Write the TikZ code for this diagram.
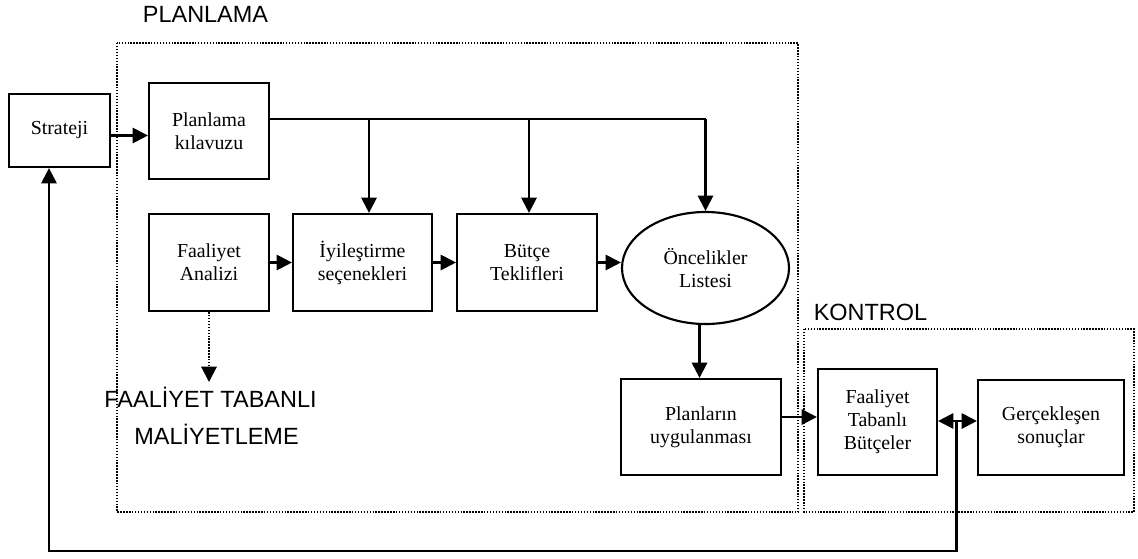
\documentclass[tikz,border=0pt]{standalone}
\usepackage{fontspec}
\setmainfont{Liberation Serif}
\setsansfont{Liberation Sans}
\usetikzlibrary{arrows.meta,shapes.geometric}
\tikzset{
  box/.style args={#1x#2}{draw, rectangle, line width=1.6pt, inner sep=0pt,
    minimum width=#1*0.75pt, minimum height=#2*0.75pt, align=center,
    font=\fontsize{14.9}{17.25}\selectfont},
  oval/.style args={#1x#2}{draw, ellipse, line width=1.6pt, inner sep=0pt,
    minimum width=#1*0.75pt, minimum height=#2*0.75pt, align=center,
    font=\fontsize{14.9}{17.25}\selectfont},
  lab/.style={font=\sffamily\fontsize{17.6}{20}\selectfont, inner sep=0pt, anchor=base},
  link/.style={line width=1.6pt},
  arr/.style={line width=1.6pt, -{Triangle[length=11.5pt,width=11.5pt]}},
  dotarr/.style={line width=1.5pt, dash pattern=on 1.1pt off 1.1pt,
    -{Triangle[length=11.5pt,width=11.5pt]}},
  region/.style={line width=1.6pt, dash pattern=on 1.1pt off 1.1pt}
}
\begin{document}
\begin{tikzpicture}[x=0.75pt,y=-0.75pt]
\useasboundingbox (0,0) rectangle (1138,558);

% dotted areas
\draw[region] (117,43) rectangle (798,512);
\draw[region] (804,329) rectangle (1134,512);
\node[lab] (tplan) at (205.5,22) {PLANLAMA};
\node[lab] (tkont) at (870.5,320) {KONTROL};

% boxes
\node[box=101x73]  (strat) at (59.5,130.5) {Strateji};
\node[box=120x96]  (plk)   at (209,131)    {Planlama\\kılavuzu};
\node[box=120x97]  (fa)    at (209,262.5)  {Faaliyet\\Analizi};
\node[box=139x97]  (iyi)   at (362.5,262.5){İyileştirme\\seçenekleri};
\node[box=140x97]  (but)   at (527,262.5)  {Bütçe\\Teklifleri};
\node[oval=167x112] (onc)  at (705.5,268)  {Öncelikler\\Listesi};
\node[box=160x96]  (plu)   at (701,427)    {Planların\\uygulanması};
\node[box=119x106] (ftb)   at (877.5,422)  {Faaliyet\\Tabanlı\\Bütçeler};
\node[box=146x95]  (ger)   at (1051,427.5) {Gerçekleşen\\sonuçlar};

\node[lab] (fab1) at (210.5,407) {FAALİYET TABANLI};
\node[lab] (fab2) at (216.5,444) {MALİYETLEME};

% strategy to planning guide
\coordinate (sa) at ([yshift=-3.75pt]strat.east);
\draw[arr] (sa) -- (sa -| plk.west);

% planning guide distribution line
\coordinate (pt) at ([yshift=9pt]plk.east);
\coordinate (j1) at (369,119);
\coordinate (j2) at (529,119);
\coordinate (j3) at (pt -| onc.north);
\draw[link] (pt) -- (j3);
\draw[arr] (j1) -- (j1 |- iyi.north);
\draw[arr] (j2) -- (j2 |- but.north);
\draw[arr] (j3) -- (onc.north);

% main chain
\draw[arr] (fa.east) -- (iyi.west);
\draw[arr] (iyi.east) -- (but.west);
\draw[arr] (but.east) -- (but.east -| onc.west);
\draw[arr] (onc.264) -- (onc.264 |- plu.north);
\coordinate (pa) at ([yshift=7.5pt]plu.east);
\draw[arr] (pa) -- (pa -| ftb.west);

% activity based costing
\coordinate (fd) at (fa.south |- 0,382);
\draw[dotarr] (fa.south) -- (fd);

% control and feedback
\coordinate (fb) at (956.5,421);
\draw[arr] (fb) -- (fb -| ftb.east);
\draw[arr] (fb) -- (fb -| ger.west);
\coordinate (fbR) at (956.5,551);
\coordinate (fbL) at (49,551);
\draw[arr] (fb) -- (fbR) -- (fbL) -- (fbL |- strat.south);
\end{tikzpicture}
\end{document}
